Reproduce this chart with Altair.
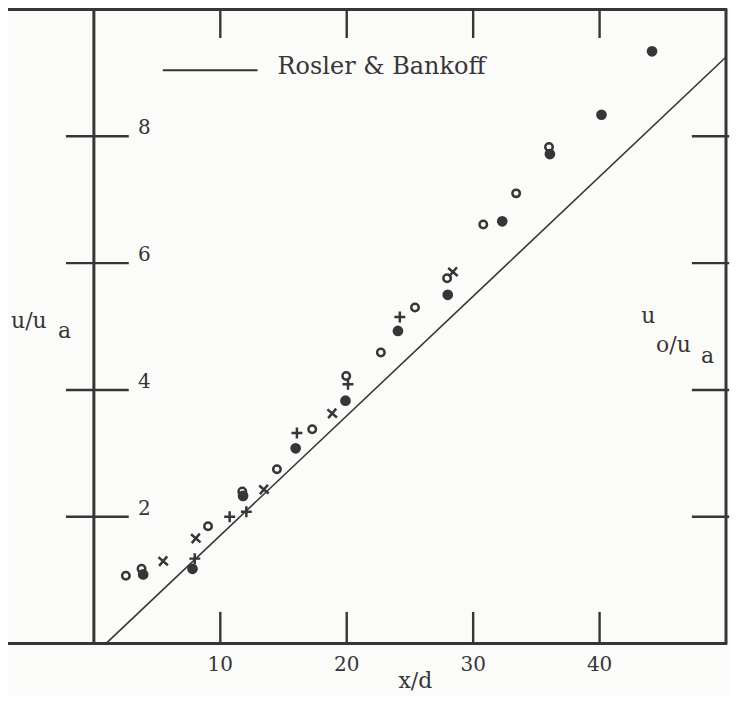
import altair as alt
import pandas as pd

INK = "#363636"
BG = "#fbfbf9"
FONT = "DejaVu Serif"

# ---- data ----
open_x = [2.53, 3.77, 9.03, 11.74, 14.48, 17.27, 19.96, 22.7, 25.4, 27.94, 30.8, 33.4, 36.0]
open_y = [1.07, 1.18, 1.85, 2.40, 2.75, 3.38, 4.22, 4.59, 5.30, 5.76, 6.61, 7.10, 7.83]

filled_x = [3.9, 7.8, 11.8, 15.96, 19.9, 24.05, 27.99, 32.3, 36.07, 40.15, 44.15]
filled_y = [1.09, 1.18, 2.33, 3.08, 3.83, 4.93, 5.50, 6.66, 7.72, 8.34, 9.34]

xmark_x = [5.48, 8.06, 13.45, 18.85, 28.4]
xmark_y = [1.30, 1.66, 2.43, 3.63, 5.86]

plus_x = [7.98, 10.74, 12.06, 16.06, 20.1, 24.2]
plus_y = [1.34, 2.0, 2.08, 3.32, 4.09, 5.15]

# Rosler & Bankoff line
line_x = [0.95, 50.0]
line_y = [0.0, 9.25]

x_ticks = [10, 20, 30, 40]
y_ticks = [2, 4, 6, 8]
legend_label = "Rosler & Bankoff"

# ---- scales ----
XS = alt.Scale(domain=[0, 50], nice=False, zero=False)
YS = alt.Scale(domain=[0, 10], nice=False, zero=False)


def X(f):
    return alt.X(f, scale=XS, axis=None)


def Y(f):
    return alt.Y(f, scale=YS, axis=None)


layers = []

# frame lines (top and bottom extend to the left like the scan)
hframe = pd.DataFrame({"x": [-6.9, -6.9], "x2": [50.1, 50.1], "y": [10, 0]})
vframe = pd.DataFrame({"x": [0, 50], "y": [0, 0], "y2": [10, 10]})
layers.append(alt.Chart(hframe).mark_rule(color=INK, strokeWidth=3).encode(
    x=X("x:Q"), x2="x2:Q", y=Y("y:Q")))
layers.append(alt.Chart(vframe).mark_rule(color=INK, strokeWidth=3).encode(
    x=X("x:Q"), y=Y("y:Q"), y2="y2:Q"))

# ticks
yt = pd.DataFrame({"v": y_ticks})
xt = pd.DataFrame({"v": x_ticks})
left_t = yt.assign(a=-2.21, b=2.76)
right_t = yt.assign(a=47.3, b=50.25)
top_t = xt.assign(a=10.0, b=9.55)
bot_t = xt.assign(a=0.0, b=0.5)
for df in (left_t, right_t):
    layers.append(alt.Chart(df).mark_rule(color=INK, strokeWidth=2.4).encode(
        y=Y("v:Q"), x=X("a:Q"), x2="b:Q"))
for df in (top_t, bot_t):
    layers.append(alt.Chart(df).mark_rule(color=INK, strokeWidth=2.4).encode(
        x=X("v:Q"), y=Y("a:Q"), y2="b:Q"))

# tick labels
layers.append(alt.Chart(yt.assign(lx=3.48)).mark_text(
    align="left", baseline="alphabetic", dy=-2, font=FONT, fontSize=20, color=INK).encode(
    y=Y("v:Q"), x=X("lx:Q"), text=alt.Text("v:Q")))
layers.append(alt.Chart(xt.assign(ly=0.0)).mark_text(
    align="center", baseline="alphabetic", dy=27, font=FONT, fontSize=20, color=INK).encode(
    x=X("v:Q"), y=Y("ly:Q"), text=alt.Text("v:Q")))

# fitted line
layers.append(alt.Chart(pd.DataFrame({"x": line_x, "y": line_y})).mark_line(
    color=INK, strokeWidth=1.6).encode(x=X("x:Q"), y=Y("y:Q")))

# data points
layers.append(alt.Chart(pd.DataFrame({"x": open_x, "y": open_y})).mark_point(
    shape="circle", filled=False, size=56, strokeWidth=2.5, color=INK, opacity=1).encode(
    x=X("x:Q"), y=Y("y:Q")))
layers.append(alt.Chart(pd.DataFrame({"x": filled_x, "y": filled_y})).mark_point(
    shape="circle", filled=True, size=115, color=INK, opacity=1).encode(
    x=X("x:Q"), y=Y("y:Q")))
layers.append(alt.Chart(pd.DataFrame({"x": xmark_x, "y": xmark_y})).mark_point(
    shape="M-1,-0.85L1,0.85M-0.85,1L0.85,-1", filled=False, size=90, strokeWidth=2.5,
    color=INK, opacity=1).encode(x=X("x:Q"), y=Y("y:Q")))
layers.append(alt.Chart(pd.DataFrame({"x": plus_x, "y": plus_y})).mark_point(
    shape="M-1,0L1,0M0,-1L0,1", filled=False, size=120, strokeWidth=2.5,
    color=INK, opacity=1).encode(x=X("x:Q"), y=Y("y:Q")))

# legend
layers.append(alt.Chart(pd.DataFrame({"x": [5.45], "x2": [12.95], "y": [9.04]})).mark_rule(
    color=INK, strokeWidth=2).encode(x=X("x:Q"), x2="x2:Q", y=Y("y:Q")))

# texts: legend label and axis titles
texts = pd.DataFrame({
    "t": [legend_label, "u/u", "a", "u", "o/u", "a"],
    "x": [14.53, -6.55, -2.84, 43.29, 44.47, 48.03],
    "y": [8.99, 4.98, 4.82, 5.06, 4.60, 4.43],
    "s": [24, 22, 22, 22, 22, 22],
})
for i in range(len(texts)):
    row = texts.iloc[[i]]
    layers.append(alt.Chart(row).mark_text(
        align="left", baseline="alphabetic", font=FONT,
        fontSize=float(row["s"].iloc[0]), color=INK).encode(
        x=X("x:Q"), y=Y("y:Q"), text="t:N"))

layers.append(alt.Chart(pd.DataFrame({"t": ["x/d"], "x": [25.43], "y": [-0.70]})).mark_text(
    align="center", baseline="alphabetic", font=FONT, fontSize=22, color=INK).encode(
    x=X("x:Q"), y=Y("y:Q"), text="t:N"))

chart = alt.layer(*layers).properties(
    width=633,
    height=635,
    padding={"left": 86, "top": 1, "right": 4, "bottom": 52},
    autosize=alt.AutoSizeParams(type="none"),
    background=BG,
).configure_view(stroke=None)

chart.save("out.html", embed_options={"renderer": "svg", "actions": False})
